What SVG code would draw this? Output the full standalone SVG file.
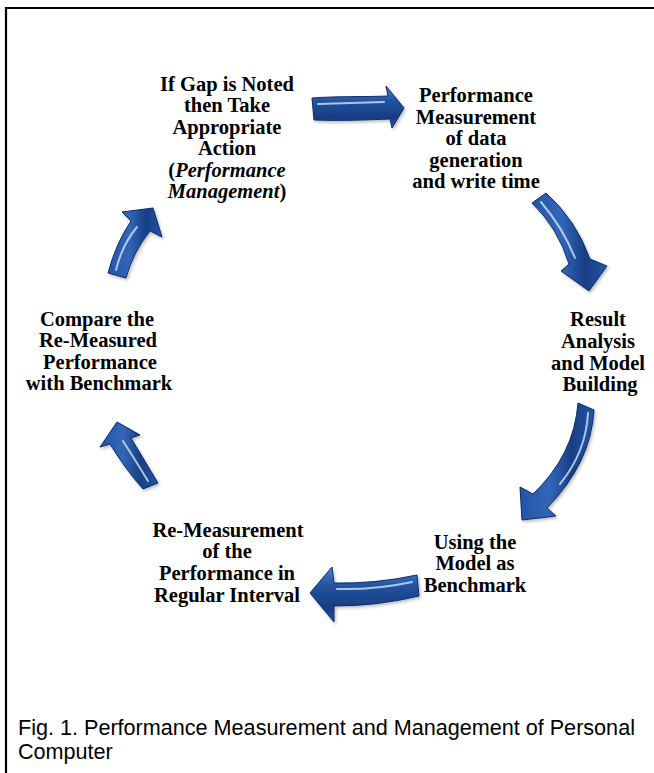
<svg xmlns="http://www.w3.org/2000/svg" width="654" height="773" viewBox="0 0 654 773">
  <defs>
    <style>
      .lbl { font-family: "Liberation Serif", "Times New Roman", serif; font-weight: bold; font-size: 20.5px; fill: #000; text-anchor: middle; }
      .it { font-style: italic; }
      .cap { font-family: "Liberation Sans", Arial, sans-serif; font-size: 21.6px; fill: #000; }
      .arrow { stroke: #0f2b66; stroke-width: 1; stroke-linejoin: round; filter: url(#shadow); }
      .shine { fill: none; stroke: #cfe2fa; stroke-width: 2; stroke-linecap: round; opacity: 0.8; }
      .frame { fill: none; stroke: #000; stroke-width: 2.2; }
    </style>
    <linearGradient id="gradV" x1="0" y1="0" x2="0" y2="1">
      <stop offset="0" stop-color="#4a7ecb"/>
      <stop offset="0.35" stop-color="#22529f"/>
      <stop offset="0.75" stop-color="#173d82"/>
      <stop offset="1" stop-color="#2858a8"/>
    </linearGradient>
    <linearGradient id="gradH" x1="0" y1="0" x2="1" y2="0">
      <stop offset="0" stop-color="#2556a6"/>
      <stop offset="0.4" stop-color="#3266b8"/>
      <stop offset="0.7" stop-color="#183f85"/>
      <stop offset="1" stop-color="#2455a5"/>
    </linearGradient>
    <filter id="shadow" x="-20%" y="-20%" width="140%" height="140%">
      <feDropShadow dx="1.5" dy="2" stdDeviation="1.5" flood-color="#000" flood-opacity="0.25"/>
    </filter>
  </defs>

  <rect width="654" height="773" fill="#fff"/>

  <!-- figure frame (open at right and bottom) -->
  <path class="frame" d="M6,773 V8 H654"/>

  <!-- curved cycle arrows -->
  <g id="connectors">
    <g id="arrow-top">
      <path class="arrow" fill="url(#gradV)" d="M312,98 C340,96 365,97 388,96 L386,86 L404,108 L392,128 L390,119 C365,120 340,121 314,120 Z"/>
      <path class="shine" d="M318,104 Q352,103 384,102"/>
    </g>
    <g id="arrow-upper-right">
      <path class="arrow" fill="url(#gradH)" d="M532,203 Q558,228 569,264 L561,271 L589,291 L607,266 L590,259 Q576,220 546,193 Z"/>
      <path class="shine" d="M541,202 Q563,228 575,258"/>
    </g>
    <g id="arrow-lower-right">
      <path class="arrow" fill="url(#gradH)" d="M578,403 Q574,455 533,494 L520,487 L522,520 L556,516 L547,508 Q591,463 594,410 Z"/>
      <path class="shine" d="M588,413 Q586,452 560,484"/>
    </g>
    <g id="arrow-bottom">
      <path class="arrow" fill="url(#gradV)" d="M417,575 Q375,584 334,583 L332,567 L310,593 L334,622 L334,606 Q378,606 419,596 Z"/>
      <path class="shine" d="M412,582 Q375,590 337,589"/>
    </g>
    <g id="arrow-lower-left">
      <path class="arrow" fill="url(#gradH)" d="M158,483 Q143,458 131,438 L140,435 L117,422 L100,447 L110,444 Q126,470 143,489 Z"/>
      <path class="shine" d="M148,481 Q134,458 123,441"/>
    </g>
    <g id="arrow-upper-left">
      <path class="arrow" fill="url(#gradH)" d="M108,273 Q116,243 131,221 L122,212 L153,208 L162,237 L150,231 Q133,252 126,278 Z"/>
      <path class="shine" d="M116,270 Q122,245 137,227"/>
    </g>
  </g>

  <!-- cycle steps -->
  <g id="step-action">
    <text class="lbl" x="227" y="90.5">If Gap is Noted</text>
    <text class="lbl" x="227" y="112">then Take</text>
    <text class="lbl" x="227" y="133.5">Appropriate</text>
    <text class="lbl" x="227" y="155">Action</text>
    <text class="lbl" x="227" y="176.5">(<tspan class="it">Performance</tspan></text>
    <text class="lbl" x="227" y="198"><tspan class="it">Management</tspan>)</text>
  </g>

  <g id="step-measurement">
    <text class="lbl" x="476" y="102">Performance</text>
    <text class="lbl" x="476" y="123.5">Measurement</text>
    <text class="lbl" x="476" y="145">of data</text>
    <text class="lbl" x="476" y="166.5">generation</text>
    <text class="lbl" x="476" y="188">and write time</text>
  </g>

  <g id="step-analysis">
    <text class="lbl" x="598" y="326">Result</text>
    <text class="lbl" x="598" y="348">Analysis</text>
    <text class="lbl" x="598" y="370">and Model</text>
    <text class="lbl" x="600" y="391">Building</text>
  </g>

  <g id="step-benchmark">
    <text class="lbl" x="475" y="549">Using the</text>
    <text class="lbl" x="475" y="570">Model as</text>
    <text class="lbl" x="475" y="592">Benchmark</text>
  </g>

  <g id="step-remeasure">
    <text class="lbl" x="228" y="537">Re-Measurement</text>
    <text class="lbl" x="227" y="558">of the</text>
    <text class="lbl" x="227" y="580">Performance in</text>
    <text class="lbl" x="227" y="602">Regular Interval</text>
  </g>

  <g id="step-compare">
    <text class="lbl" x="97" y="326">Compare the</text>
    <text class="lbl" x="98" y="347">Re-Measured</text>
    <text class="lbl" x="100" y="369">Performance</text>
    <text class="lbl" x="99" y="390">with Benchmark</text>
  </g>

  <!-- caption -->
  <g id="caption">
    <text class="cap" x="18" y="735">Fig. 1. Performance Measurement and Management of Personal</text>
    <text class="cap" x="18" y="759">Computer</text>
  </g>
</svg>
